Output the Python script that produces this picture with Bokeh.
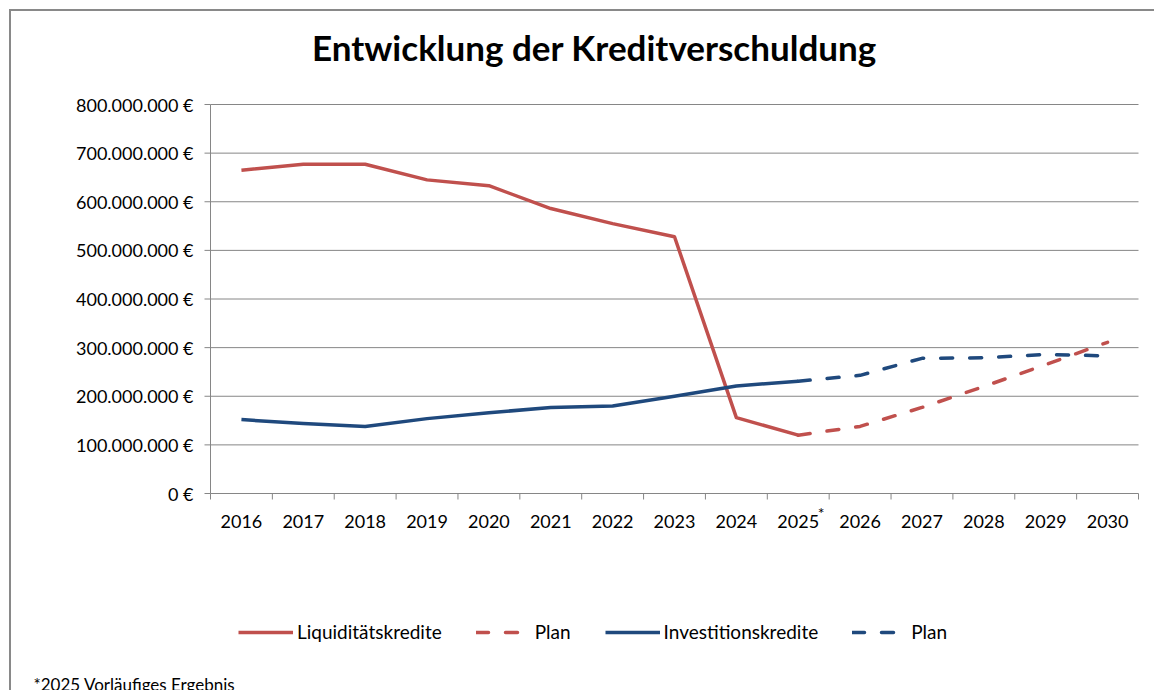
import math
from bokeh.plotting import figure
from bokeh.models import (Range1d, Label, Legend, LegendItem, InlineStyleSheet)
from bokeh.core.properties import value
from bokeh.embed import file_html
from bokeh.resources import INLINE

# ---- data -------------------------------------------------------------
years = ["2016", "2017", "2018", "2019", "2020", "2021", "2022", "2023",
         "2024", "2025", "2026", "2027", "2028", "2029", "2030"]

liq_years = years[:10]
liq = [665e6, 677e6, 677e6, 645e6, 633e6, 586e6, 555e6, 528e6, 156e6, 120e6]
liq_plan_years = years[9:]
liq_plan = [120e6, 138e6, 177e6, 220e6, 265e6, 311e6]

inv_years = years[:10]
inv = [152e6, 144e6, 138e6, 154e6, 166e6, 177e6, 180e6, 200e6, 221e6, 231e6]
inv_plan_years = years[9:]
inv_plan = [231e6, 243e6, 278e6, 279e6, 286e6, 283e6]

y_ticks = [0, 100_000_000, 200_000_000, 300_000_000, 400_000_000,
           500_000_000, 600_000_000, 700_000_000, 800_000_000]

title_text = "Entwicklung der Kreditverschuldung"
footnote_text = "*2025 Vorläufiges Ergebnis"
legend_labels = ["Liquiditätskredite", "Plan", "Investitionskredite", "Plan"]

# ---- layout / styling -------------------------------------------------
W, H = 1154, 690
PL, PR, PT, PB = 210, 1138, 104, 493          # plot area in canvas pixels
RED = "#C0504D"
BLUE = "#1F497D"
GRID = "#868686"
FONT = "Lato"
DASH = "12 17"

n = len(years)
idx = {y: i for i, y in enumerate(years)}
centers = list(range(n))
bounds = [i - 0.5 for i in range(n + 1)]
y_max = y_ticks[-1]

ux = (PR - PL) / n
uy = (PB - PT) / y_max
x_range = Range1d(bounds[0] - PL / ux, bounds[-1] + (W - PR) / ux)
y_range = Range1d(-(H - PB) / uy, y_max + PT / uy)

p = figure(width=W, height=H, output_backend="svg", toolbar_location=None,
           x_range=x_range, y_range=y_range,
           x_axis_location=None, y_axis_location=None,
           min_border=0, min_border_left=0, min_border_right=0,
           min_border_top=0, min_border_bottom=0)
p.title_location = None
p.outline_line_color = None
p.background_fill_color = "white"
p.border_fill_color = "white"
p.grid.visible = False

# outer chart-area border (top and left edges visible in the window)
p.stylesheets = [InlineStyleSheet(css="""
:host { position: relative; }
:host::after {
  content: ""; position: absolute; left: 9px; top: 9px; right: 0; bottom: 0;
  border-left: 2px solid #898989; border-top: 2px solid #898989;
  pointer-events: none; z-index: 5;
}
""")]

def money(v):
    return f"{v:,.0f}".replace(",", ".") + " €"

# ---- value axis, grid and category axis -------------------------------
grid_y = y_ticks[1:]
p.segment(x0=[bounds[0]] * len(grid_y), y0=grid_y,
          x1=[bounds[-1]] * len(grid_y), y1=grid_y,
          line_color=GRID, line_width=1)
# y axis line + ticks + labels
p.segment(x0=[bounds[0]], y0=[y_ticks[0]], x1=[bounds[0]], y1=[y_ticks[-1]],
          line_color=GRID, line_width=1)
p.ray(x=[bounds[0]] * len(y_ticks), y=y_ticks, length=6, length_units="screen",
      angle=math.pi, line_color=GRID, line_width=1)
p.text(x=[bounds[0]] * len(y_ticks), y=y_ticks,
       text=[money(t) for t in y_ticks], x_offset=-17,
       text_align="right", text_baseline="middle", text_font=value(FONT),
       text_font_size="18px", text_color="black")
# x axis line + ticks between categories + labels
p.segment(x0=[bounds[0]], y0=[y_ticks[0]], x1=[bounds[-1]], y1=[y_ticks[0]],
          line_color=GRID, line_width=1)
p.ray(x=bounds, y=[y_ticks[0]] * len(bounds), length=6, length_units="screen",
      angle=-math.pi / 2, line_color=GRID, line_width=1)
p.text(x=centers, y=[y_ticks[0]] * n, text=years, y_offset=28,
       text_align="center", text_baseline="middle", text_font=value(FONT),
       text_font_size="18px", text_color="black")

# ---- lines ------------------------------------------------------------
r_liq = p.line([idx[y] for y in liq_years], liq, line_color=RED, line_width=3.5,
               line_join="round")
r_liq_plan = p.line([idx[y] for y in liq_plan_years], liq_plan, line_color=RED,
                    line_width=3.5, line_dash=DASH, line_cap="round",
                    line_join="round")
r_inv = p.line([idx[y] for y in inv_years], inv, line_color=BLUE, line_width=3.5,
               line_join="round")
r_inv_plan = p.line([idx[y] for y in inv_plan_years], inv_plan, line_color=BLUE,
                    line_width=3.5, line_dash=DASH, line_cap="round",
                    line_join="round")

legend = Legend(items=[
    LegendItem(label=legend_labels[0], renderers=[r_liq]),
    LegendItem(label=legend_labels[1], renderers=[r_liq_plan]),
    LegendItem(label=legend_labels[2], renderers=[r_inv]),
    LegendItem(label=legend_labels[3], renderers=[r_inv_plan]),
], orientation="horizontal", location=(238, 47),
    glyph_width=55, glyph_height=20, label_standoff=4, spacing=34,
    padding=0, margin=0, border_line_color=None, background_fill_alpha=0,
    label_text_font=FONT, label_text_font_size="19px", label_text_color="black")
p.add_layout(legend, "center")

# ---- texts ------------------------------------------------------------
p.add_layout(Label(x=594, y=H - 46, x_units="screen", y_units="screen",
                   text=title_text, text_align="center",
                   text_baseline="middle",
                   text_font=FONT, text_font_style="bold",
                   text_font_size="35px", text_color="black"))

p.add_layout(Label(x=idx["2025"], y=H - 512, x_units="data", y_units="screen",
                   x_offset=23, text="*", text_align="center",
                   text_baseline="alphabetic", text_font=FONT,
                   text_font_size="16px", text_color="black"))

p.add_layout(Label(x=33, y=6, x_units="screen", y_units="screen",
                   text=footnote_text, text_align="left",
                   text_baseline="alphabetic", text_font=FONT,
                   text_font_size="17px", text_color="black"))

open("out.html", "w").write(file_html(p, INLINE))
